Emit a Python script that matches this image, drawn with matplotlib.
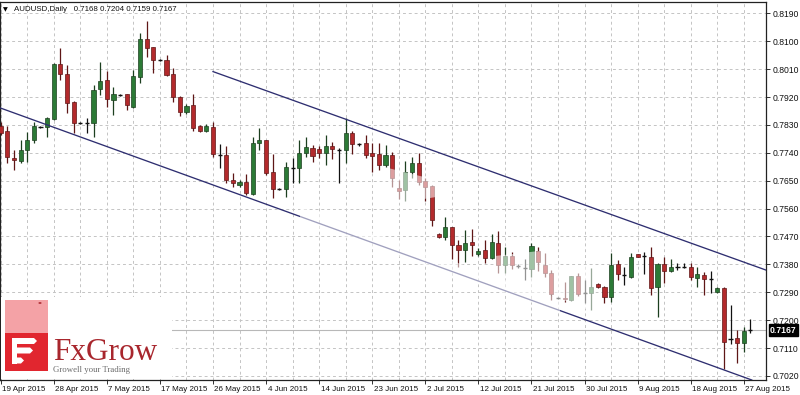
import pandas as pd
import matplotlib
matplotlib.use('Agg')
import matplotlib.pyplot as plt
import matplotlib.transforms as mtransforms
from matplotlib.patches import Rectangle, Polygon, Circle

plt.rcParams['font.family'] = ['Liberation Sans', 'DejaVu Sans']

# AUDUSD daily bars from 19 Apr 2015 to 28 Aug 2015 (broker shows Sunday bars, no Saturdays)
opens = [0.7826, 0.7810, 0.7723, 0.7714, 0.7749, 0.7781, 0.7823, 0.7823, 0.7849, 0.8026,
         0.7994, 0.7904, 0.7836, 0.7837, 0.7836, 0.7946, 0.7975, 0.7910, 0.7928, 0.7930,
         0.7888, 0.7985, 0.8107, 0.8081, 0.8039, 0.8039, 0.7994, 0.7920, 0.7872, 0.7894,
         0.7826, 0.7810, 0.7823, 0.7733, 0.7733, 0.7652, 0.7636, 0.7646, 0.7607, 0.7772,
         0.7781, 0.7678, 0.7623, 0.7623, 0.7691, 0.7691, 0.7739, 0.7755, 0.7752, 0.7739,
         0.7762, 0.7749, 0.7749, 0.7804, 0.7768, 0.7772, 0.7739, 0.7736, 0.7701, 0.7733,
         0.7626, 0.7620, 0.7678, 0.7707, 0.7649, 0.7633, 0.7478, 0.7468, 0.7501, 0.7443,
         0.7426, 0.7452, 0.7413, 0.7426, 0.7401, 0.7449, 0.7378, 0.7407, 0.7375, 0.7368,
         0.7365, 0.7423, 0.7378, 0.7352, 0.7272, 0.7271, 0.7265, 0.7342, 0.7288, 0.7288,
         0.7317, 0.7307, 0.7275, 0.7381, 0.7346, 0.7339, 0.7413, 0.7407, 0.7404, 0.7307,
         0.7381, 0.7359, 0.7372, 0.7372, 0.7372, 0.7336, 0.7346, 0.7333, 0.7291, 0.7304,
         0.7139, 0.7142, 0.7126, 0.7168]
highs = [0.7839, 0.7826, 0.7749, 0.7781, 0.7807, 0.7839, 0.7826, 0.7855, 0.8030, 0.8078,
         0.8023, 0.7906, 0.7839, 0.7852, 0.7959, 0.8033, 0.8004, 0.7952, 0.7930, 0.7931,
         0.8007, 0.8126, 0.8165, 0.8082, 0.8043, 0.8056, 0.8013, 0.7923, 0.7897, 0.7930,
         0.7830, 0.7833, 0.7839, 0.7768, 0.7762, 0.7675, 0.7652, 0.7672, 0.7791, 0.7820,
         0.7782, 0.7736, 0.7626, 0.7710, 0.7723, 0.7781, 0.7791, 0.7765, 0.7762, 0.7797,
         0.7775, 0.7755, 0.7852, 0.7810, 0.7772, 0.7797, 0.7772, 0.7772, 0.7765, 0.7743,
         0.7652, 0.7714, 0.7726, 0.7739, 0.7659, 0.7636, 0.7482, 0.7533, 0.7502, 0.7459,
         0.7491, 0.7494, 0.7433, 0.7459, 0.7478, 0.7488, 0.7436, 0.7420, 0.7381, 0.7397,
         0.7449, 0.7436, 0.7417, 0.7362, 0.7275, 0.7323, 0.7343, 0.7352, 0.7330, 0.7368,
         0.7320, 0.7310, 0.7417, 0.7394, 0.7372, 0.7417, 0.7414, 0.7420, 0.7436, 0.7385,
         0.7404, 0.7397, 0.7385, 0.7385, 0.7385, 0.7372, 0.7355, 0.7359, 0.7307, 0.7307,
         0.7249, 0.7168, 0.7178, 0.7204]
lows = [0.7797, 0.7707, 0.7684, 0.7707, 0.7710, 0.7772, 0.7820, 0.7791, 0.7846, 0.7975,
        0.7868, 0.7804, 0.7833, 0.7804, 0.7791, 0.7926, 0.7888, 0.7862, 0.7923, 0.7878,
        0.7885, 0.7965, 0.8049, 0.7997, 0.8036, 0.7988, 0.7904, 0.7859, 0.7865, 0.7810,
        0.7807, 0.7807, 0.7726, 0.7691, 0.7643, 0.7630, 0.7630, 0.7604, 0.7604, 0.7749,
        0.7668, 0.7594, 0.7620, 0.7597, 0.7643, 0.7643, 0.7726, 0.7710, 0.7723, 0.7701,
        0.7720, 0.7643, 0.7707, 0.7736, 0.7762, 0.7723, 0.7678, 0.7684, 0.7694, 0.7630,
        0.7591, 0.7585, 0.7659, 0.7636, 0.7585, 0.7504, 0.7465, 0.7459, 0.7397, 0.7372,
        0.7388, 0.7407, 0.7407, 0.7385, 0.7397, 0.7352, 0.7352, 0.7365, 0.7368, 0.7330,
        0.7339, 0.7359, 0.7339, 0.7265, 0.7268, 0.7259, 0.7262, 0.7278, 0.7255, 0.7233,
        0.7304, 0.7255, 0.7259, 0.7330, 0.7314, 0.7336, 0.7403, 0.7349, 0.7281, 0.7210,
        0.7320, 0.7355, 0.7362, 0.7368, 0.7330, 0.7307, 0.7281, 0.7288, 0.7288, 0.7043,
        0.7123, 0.7062, 0.7097, 0.7159]
closes = [0.7804, 0.7726, 0.7717, 0.7749, 0.7781, 0.7826, 0.7823, 0.7852, 0.8026, 0.7994,
          0.7901, 0.7836, 0.7837, 0.7836, 0.7943, 0.7972, 0.7914, 0.7930, 0.7927, 0.7894,
          0.7988, 0.8107, 0.8078, 0.8039, 0.8039, 0.7991, 0.7920, 0.7872, 0.7891, 0.7820,
          0.7810, 0.7826, 0.7736, 0.7733, 0.7652, 0.7643, 0.7646, 0.7610, 0.7772, 0.7781,
          0.7675, 0.7623, 0.7624, 0.7694, 0.7692, 0.7739, 0.7759, 0.7730, 0.7739, 0.7762,
          0.7752, 0.7749, 0.7804, 0.7768, 0.7768, 0.7733, 0.7730, 0.7701, 0.7733, 0.7659,
          0.7617, 0.7678, 0.7707, 0.7646, 0.7630, 0.7523, 0.7468, 0.7501, 0.7443, 0.7426,
          0.7449, 0.7443, 0.7423, 0.7401, 0.7452, 0.7378, 0.7407, 0.7378, 0.7375, 0.7368,
          0.7439, 0.7388, 0.7352, 0.7284, 0.7271, 0.7268, 0.7342, 0.7284, 0.7288, 0.7307,
          0.7307, 0.7275, 0.7378, 0.7349, 0.7345, 0.7404, 0.7404, 0.7407, 0.7304, 0.7381,
          0.7359, 0.7372, 0.7372, 0.7371, 0.7339, 0.7349, 0.7333, 0.7332, 0.7304, 0.7130,
          0.7139, 0.7126, 0.7165, 0.7167]

price_ticks = [0.7020, 0.7110, 0.7200, 0.7290, 0.7380, 0.7470, 0.7560,
               0.7650, 0.7740, 0.7830, 0.7920, 0.8010, 0.8100, 0.8190]

# channel lines drawn on the chart: (bar index, price) end points
upper_line_bars = [32.0, 115.3]
upper_line_prices = [0.8002, 0.7362]
lower_line_bars = [-0.1, 113.2]
lower_line_prices = [0.7885, 0.7007]

symbol = 'AUDUSD,Daily'

dates = pd.date_range('2015-04-19', '2015-08-28')
dates = dates[dates.dayofweek != 5]
bars = list(range(len(dates)))

bull_fill, bull_edge = '#2c7a36', '#1c3f1f'
bear_fill, bear_edge = '#b32a2c', '#5e1616'

fig = plt.figure(figsize=(8, 3.95), dpi=100)
ax = fig.add_axes([0.0, 15 / 395, 765.5 / 800, 378 / 395])
ax.set_xlim(-0.1, 115.27)
ax.set_ylim(0.7007, 0.82265)

# grid
for v in price_ticks:
    ax.axhline(v, color='#c4c4c4', lw=0.7, ls=(0, (3, 3)), zorder=0)
for b in bars[::4]:
    ax.axvline(b, color='#c4c4c4', lw=0.7, ls=(0, (3, 3)), zorder=0)

# bid line
ax.axhline(closes[-1], color='#b8b8b8', lw=0.8, zorder=1)

# candles
body_w = 0.62
for i in bars:
    o, h, l, c = opens[i], highs[i], lows[i], closes[i]
    if abs(c - o) < 0.00015:
        ax.vlines(i, l, h, color='#111111', lw=0.9, zorder=2)
        ax.hlines(c, i - body_w / 2, i + body_w / 2, color='#111111', lw=1.0, zorder=3)
        continue
    up = c > o
    ax.vlines(i, l, h, color=bull_edge if up else bear_edge, lw=0.9, zorder=2)
    ax.bar(i, abs(c - o), bottom=min(o, c), width=body_w,
           color=bull_fill if up else bear_fill,
           edgecolor=bull_edge if up else bear_edge, lw=0.5, zorder=3)

# channel
ax.plot(upper_line_bars, upper_line_prices, color='#2e2e70', lw=0.95, zorder=4)
ax.plot(lower_line_bars, lower_line_prices, color='#2e2e70', lw=0.95, zorder=4)

# axes styling
for s in ax.spines.values():
    s.set_color('#222222')
    s.set_linewidth(0.9)
ax.yaxis.tick_right()
ax.set_yticks(price_ticks)
ax.set_yticklabels([f'{v:.4f}' for v in price_ticks])
ax.tick_params(axis='y', length=3, width=0.6, pad=2, labelsize=6.2, colors='#111111')

label_bars = bars[::8]
ax.set_xticks(label_bars)
ax.set_xticklabels([f'{dates[b].day} {dates[b]:%b %Y}' for b in label_bars])
ax.tick_params(axis='x', length=3, width=0.6, pad=1.5, labelsize=5.8, colors='#111111')
offset = mtransforms.ScaledTranslation(1.5 / 100, 0, fig.dpi_scale_trans)
for lbl in ax.get_xticklabels():
    lbl.set_ha('left')
    lbl.set_transform(lbl.get_transform() + offset)

# current price box
trans = mtransforms.blended_transform_factory(ax.transAxes, ax.transData)
ax.text(1.006, closes[-1], f'{closes[-1]:.4f}', transform=trans, color='white',
        fontsize=6.2, va='center', ha='left', fontweight='bold',
        bbox=dict(boxstyle='square,pad=0.18', fc='black', ec='black'), clip_on=False)

# header
fig.text(5 / 800, 1 - 9.5 / 395, '\u25bc', fontsize=4.5, va='center', ha='center',
         family='DejaVu Sans')
fig.text(14 / 800, 1 - 9.5 / 395,
         f'{symbol}   {opens[-1]:.4f} {highs[-1]:.4f} {lows[-1]:.4f} {closes[-1]:.4f}',
         fontsize=5.7, va='center', ha='left', color='#111111')


def px(x, y):
    return (x / 800, 1 - y / 395)


# faded watermark areas
for pts in [[(388, 168), (436, 180), (436, 197), (388, 205)],
            [(495, 256), (548, 250), (560, 266), (596, 266), (596, 313), (495, 274)],
            [(300, 207), (560, 299), (560, 313), (300, 222)]]:
    fig.add_artist(Polygon([px(*p) for p in pts], closed=True, transform=fig.transFigure,
                           fc='white', ec='none', alpha=0.55, zorder=5))

# logo
fig.add_artist(Rectangle(px(0.8, 379), 171 / 800, 82 / 395, transform=fig.transFigure,
                         fc='white', ec='none', zorder=6))
fig.add_artist(Rectangle(px(5, 333), 43 / 800, 33 / 395, transform=fig.transFigure,
                         fc='#f4a2a6', ec='none', zorder=7))
fig.add_artist(Rectangle(px(5, 371), 43 / 800, 38 / 395, transform=fig.transFigure,
                         fc='#e1262f', ec='none', zorder=7))
fig.add_artist(Circle(px(40, 303), 1.6 / 800, transform=fig.transFigure,
                      fc='#a51d24', ec='none', zorder=8))
for y0, x1 in [(338, 37), (347.5, 33), (357.5, 24)]:
    stripe = [(12, y0), (x1 - 3, y0), (x1, y0 + 3), (x1 - 3, y0 + 6), (12, y0 + 6)]
    fig.add_artist(Polygon([px(*p) for p in stripe], closed=True, transform=fig.transFigure,
                           fc='white', ec='none', zorder=8))
fig.add_artist(Rectangle(px(12, 363.5), 4.5 / 800, 25.5 / 395, transform=fig.transFigure,
                         fc='white', ec='none', zorder=8))
fig.text(*px(53, 360.5), 'FxGrow', fontsize=22.5, family='Liberation Serif',
         color='#a8262d', va='baseline', ha='left', zorder=9)
fig.text(*px(53, 372.5), 'Growell your Trading', fontsize=6.3, family='Liberation Serif',
         color='#6a6a6a', va='baseline', ha='left', zorder=9)

fig.savefig('out.png', dpi=100, facecolor='white')
